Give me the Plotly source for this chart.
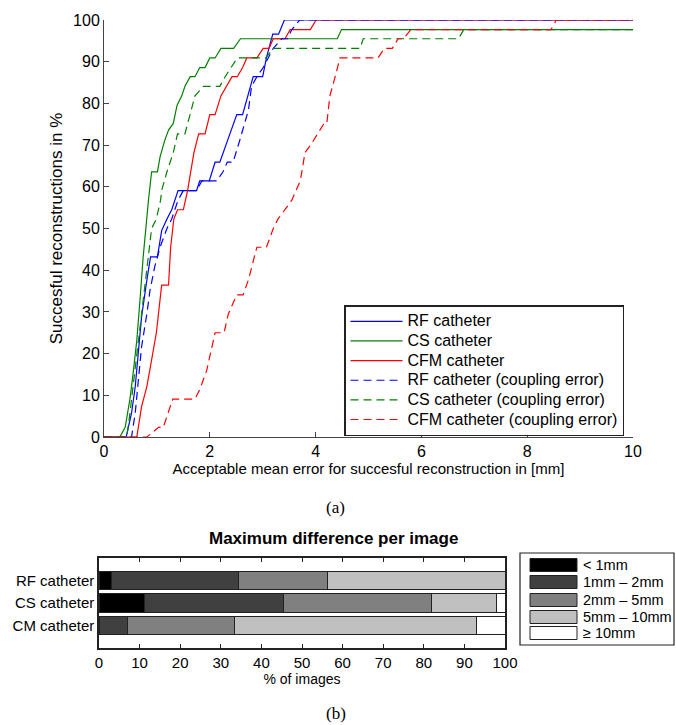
import plotly.graph_objects as go

# ---------------- data: top chart (cumulative success curves) ----------------
rf_x = [0, 0.42, 0.46, 0.52, 0.59, 0.65, 0.71, 0.81, 0.88, 1.01, 1.09, 1.19, 1.28, 1.40, 1.75, 1.81, 1.99, 2.10, 2.19, 2.38, 2.51, 2.62, 2.82, 3.00, 3.07, 3.19, 3.30, 3.41, 10]
rf_y = [0, 0, 2.3, 5.7, 12.0, 20.0, 28.8, 37.6, 43.2, 43.2, 49.5, 52.3, 54.5, 59.1, 59.1, 61.4, 61.4, 65.9, 65.9, 72.7, 77.3, 77.3, 86.4, 86.4, 90.9, 96.6, 96.6, 100, 100]

cs_x = [0, 0.30, 0.40, 0.49, 0.55, 0.62, 0.68, 0.74, 0.84, 0.90, 1.01, 1.06, 1.15, 1.22, 1.31, 1.38, 1.47, 1.53, 1.63, 1.72, 1.81, 1.91, 2.00, 2.10, 2.21, 2.45, 2.58, 4.41, 4.49, 10]
cs_y = [0, 0, 2.3, 9.1, 15.2, 23.2, 32.8, 43.1, 56.7, 63.6, 63.6, 67.2, 71.2, 73.6, 75.2, 79.5, 81.8, 84.1, 86.4, 86.4, 88.6, 88.6, 90.9, 90.9, 93.2, 93.2, 95.5, 95.5, 97.7, 97.7]

cfm_x = [0, 0.62, 0.71, 0.81, 0.90, 0.99, 1.09, 1.22, 1.26, 1.32, 1.39, 1.50, 1.58, 1.70, 1.79, 1.91, 2.00, 2.10, 2.21, 2.32, 2.42, 2.52, 2.62, 2.70, 2.89, 3.01, 3.12, 3.20, 3.42, 3.52, 3.90, 4.01, 10]
cfm_y = [0, 0, 7.3, 12.1, 18.5, 25.0, 36.4, 36.4, 45.5, 52.3, 54.5, 54.5, 59.1, 68.2, 72.7, 72.7, 77.3, 77.3, 81.8, 84.1, 86.4, 86.4, 88.6, 90.9, 90.9, 93.2, 93.2, 95.5, 95.5, 97.7, 97.7, 100, 100]

rf_c_x = [0, 0.52, 0.59, 0.65, 0.71, 0.81, 0.87, 0.96, 1.06, 1.19, 1.28, 1.40, 1.50, 1.75, 1.85, 2.13, 2.25, 2.33, 2.44, 2.57, 2.73, 2.79, 2.89, 3.01, 3.11, 3.20, 3.36, 3.47, 3.55, 3.70, 10]
rf_c_y = [0, 0, 5.7, 13.6, 21.6, 29.5, 35.2, 40.9, 45.5, 50.0, 52.3, 56.8, 59.1, 59.1, 61.4, 61.4, 63.6, 65.9, 65.9, 71.3, 78.4, 84.1, 86.4, 88.6, 90.9, 93.2, 95.5, 95.5, 97.7, 100, 100]

cs_c_x = [0, 0.43, 0.49, 0.55, 0.62, 0.68, 0.74, 0.84, 0.90, 0.99, 1.07, 1.09, 1.19, 1.31, 1.39, 1.53, 1.63, 1.72, 1.88, 2.19, 2.29, 2.41, 2.52, 3.06, 3.20, 4.84, 4.90, 6.70, 6.80, 10]
cs_c_y = [0, 0, 5.7, 12.1, 20.1, 26.5, 33.7, 43.3, 50.0, 52.3, 56.8, 59.1, 63.6, 68.2, 72.7, 72.7, 77.3, 81.8, 84.1, 84.1, 86.4, 88.6, 90.9, 90.9, 93.2, 93.2, 95.5, 95.5, 97.7, 97.7]

cfm_c_x = [0, 0.81, 1.03, 1.12, 1.30, 1.72, 1.81, 1.94, 2.10, 2.27, 2.35, 2.51, 2.63, 2.73, 2.89, 3.07, 3.20, 3.29, 3.42, 3.55, 3.71, 3.80, 3.93, 4.15, 4.21, 4.27, 4.37, 4.46, 5.18, 5.30, 5.45, 5.56, 5.66, 5.80, 8.45, 8.55, 10]
cfm_c_y = [0, 0, 2.3, 2.3, 9.1, 9.1, 11.4, 15.9, 25.0, 25.0, 29.5, 34.1, 34.1, 37.7, 45.5, 45.5, 50.0, 52.3, 54.5, 56.8, 61.4, 68.2, 70.5, 75.0, 75.0, 81.8, 86.4, 90.9, 90.9, 93.2, 93.2, 95.5, 95.5, 97.7, 97.7, 100, 100]

x_ticks = [0, 2, 4, 6, 8, 10]
y_ticks = [0, 10, 20, 30, 40, 50, 60, 70, 80, 90, 100]

# ---------------- data: bottom chart (stacked bars) ----------------
bar_cats = ["RF catheter", "CS catheter", "CM catheter"]
bar_pos = [1, 2, 3]
seg_lt1 = [3.0, 11.3, 0.0]
seg_1_2 = [31.3, 34.1, 7.1]
seg_2_5 = [22.0, 36.4, 26.2]
seg_5_10 = [43.7, 16.0, 59.7]
seg_ge10 = [0.0, 2.2, 7.0]
seg_labels = ["< 1mm", "1mm \u2013 2mm", "2mm \u2013 5mm", "5mm \u2013 10mm", "\u2265 10mm"]
seg_colors = ["#000000", "#404040", "#808080", "#c0c0c0", "#ffffff"]
bar_ticks = [0, 10, 20, 30, 40, 50, 60, 70, 80, 90, 100]

W, H = 676, 725
FONT = "Liberation Sans, Arial, Helvetica, sans-serif"
SERIF = "Liberation Serif, Times New Roman, serif"
BLUE = "rgb(0,0,255)"
GREEN = "rgb(0,128,0)"
RED = "rgb(255,0,0)"
DASH = "8px,5px"

def px(x):
    return x / W

def py(y):
    return 1 - y / H

fig = go.Figure()

curves = [
    ("RF catheter", rf_x, rf_y, BLUE, "solid"),
    ("CS catheter", cs_x, cs_y, GREEN, "solid"),
    ("CFM catheter", cfm_x, cfm_y, RED, "solid"),
    ("RF catheter (coupling error)", rf_c_x, rf_c_y, BLUE, DASH),
    ("CS catheter (coupling error)", cs_c_x, cs_c_y, GREEN, DASH),
    ("CFM catheter (coupling error)", cfm_c_x, cfm_c_y, RED, DASH),
]
for name, xs, ys, col, dash in curves:
    fig.add_trace(go.Scatter(x=xs, y=ys, mode="lines",
                             name='<span style="font-size:16px">' + name + '</span>',
                             line=dict(color=col, width=1.2, dash=dash),
                             xaxis="x", yaxis="y"))

segs = [seg_lt1, seg_1_2, seg_2_5, seg_5_10, seg_ge10]
for lab, vals, col in zip(seg_labels, segs, seg_colors):
    fig.add_trace(go.Bar(x=vals, y=bar_pos, orientation="h", name=lab,
                         marker=dict(color=col, line=dict(color="#222222", width=1)),
                         width=0.82, xaxis="x2", yaxis="y2", showlegend=False))

axis_col = "#444444"
fig.update_layout(
    template="none",
    width=W, height=H,
    margin=dict(l=0, r=0, t=0, b=0, pad=0),
    paper_bgcolor="white", plot_bgcolor="white",
    font=dict(family=FONT, size=15, color="black"),
    barmode="stack",
    xaxis=dict(domain=[px(104), px(633)], range=[0, 10], tickvals=x_ticks,
               ticks="inside", ticklen=5, tickcolor=axis_col, showline=True,
               linecolor=axis_col, linewidth=1, showgrid=False, zeroline=False,
               anchor="y", tickfont=dict(size=16), automargin=False,
               title=dict(text="Acceptable mean error for succesful reconstruction in [mm]",
                          font=dict(size=15), standoff=1)),
    yaxis=dict(domain=[py(437), py(20)], range=[0, 100], tickvals=y_ticks,
               ticks="inside", ticklen=5, tickcolor=axis_col, showline=True,
               linecolor=axis_col, linewidth=1, showgrid=False, zeroline=False,
               anchor="x", tickfont=dict(size=16), automargin=False,
               title=dict(text="Succesful reconstructions in %", font=dict(size=17), standoff=6)),
    xaxis2=dict(domain=[px(99), px(505)], range=[0, 100], tickvals=bar_ticks,
                ticks="inside", ticklen=4, tickcolor="#222", showline=True, mirror="ticks",
                linecolor="#222", linewidth=1.5, showgrid=False, zeroline=False,
                anchor="y2", tickfont=dict(size=15), automargin=False,
                title=dict(text="% of images", font=dict(size=14), standoff=2)),
    yaxis2=dict(domain=[py(648), py(558)], range=[4, 0], tickvals=bar_pos, ticktext=bar_cats,
                ticks="", showline=True, mirror=True, linecolor="#222", linewidth=1.5,
                showgrid=False, zeroline=False, anchor="x2", tickfont=dict(size=15),
                automargin=False),
    legend=dict(x=px(344), y=py(305), xanchor="left", yanchor="top",
                bordercolor="#222", borderwidth=1.5, bgcolor="white", traceorder="normal",
                font=dict(size=12.8), tracegroupgap=0, itemwidth=52),
    showlegend=True,
)

ann = [
    dict(text="(a)", x=px(335), y=py(507), font=dict(family=SERIF, size=17)),
    dict(text="(b)", x=px(336), y=py(713), font=dict(family=SERIF, size=17)),
    dict(text="<b>Maximum difference per image</b>", x=px(333), y=py(538), font=dict(size=17)),
]
shapes = []
# bottom legend (manual box + swatches + labels)
shapes.append(dict(type="rect", xref="paper", yref="paper", x0=px(520), x1=px(674),
                   y0=py(645), y1=py(553), line=dict(color="#222", width=1.2), fillcolor="white", layer="below"))
leg_y = [565, 582, 600, 617, 633]
for lab, col, yy in zip(seg_labels, seg_colors, leg_y):
    shapes.append(dict(type="rect", xref="paper", yref="paper", x0=px(530), x1=px(577),
                       y0=py(yy + 6.5), y1=py(yy - 6.5), line=dict(color="#222", width=1), fillcolor=col))
    ann.append(dict(text=lab, x=px(581), y=py(yy), xanchor="left", font=dict(size=14.5)))

for a in ann:
    a.setdefault("xref", "paper")
    a.setdefault("yref", "paper")
    a.setdefault("showarrow", False)
    a.setdefault("xanchor", "center")
    a.setdefault("yanchor", "middle")
fig.update_layout(annotations=ann, shapes=shapes)

fig.write_html("out.html", config={"displayModeBar": False},
               post_script="document.body.style.margin='0';document.body.style.padding='0';")
